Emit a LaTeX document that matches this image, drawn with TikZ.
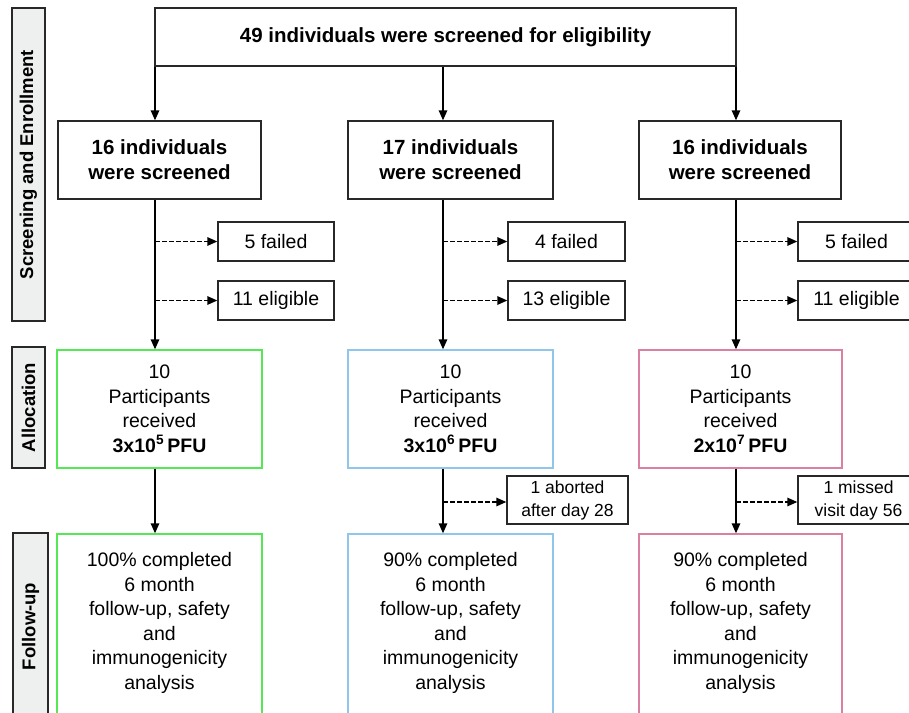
\documentclass[tikz,border=0pt]{standalone}
\usepackage{fontspec}
\setmainfont{Liberation Sans}
\usetikzlibrary{arrows.meta}
\definecolor{grnb}{RGB}{85,232,85}
\definecolor{blub}{RGB}{145,198,235}
\definecolor{pnkb}{RGB}{218,128,162}
\definecolor{sidefill}{RGB}{238,240,240}
\definecolor{edge}{RGB}{40,40,40}
\begin{document}
\begin{tikzpicture}[x=1pt,y=-1pt,
  box/.style={draw=edge, line width=1.4pt, inner sep=0pt, align=center, fill=white},
  sidebox/.style={draw=edge, line width=1.4pt, fill=sidefill, inner sep=0pt, rotate=90,
     font=\fontsize{18.5pt}{22pt}\selectfont\bfseries},
  bigtxt/.style={font=\fontsize{20.5pt}{25pt}\selectfont\bfseries},
  regtxt/.style={font=\fontsize{19.5pt}{24.5pt}\selectfont},
  smalltxt/.style={font=\fontsize{17.5pt}{23pt}\selectfont},
  plain/.style={inner sep=0pt, align=center},
  flow/.style={draw=black, line width=1.5pt, -{Triangle[length=10pt,width=8.5pt]}},
  dflow/.style={draw=black, line width=1.5pt, dash pattern=on 4.5pt off 2.5pt, -{Triangle[length=10pt,width=8.5pt]}}
]
\useasboundingbox (0,0) rectangle (909,712);
\clip (0,0) rectangle (909,712);

% side bars
\node[sidebox, minimum width=313pt, minimum height=33pt] (sb1) at (28.5,164.5) {Screening and Enrollment};
\node[sidebox, minimum width=121pt, minimum height=33pt] (sb2) at (28.5,407.5) {Allocation};
\node[sidebox, minimum width=187pt, minimum height=35pt] (sb3) at (30.5,626.5) {Follow-up};

% top box
\node[box, bigtxt, minimum width=581pt, minimum height=58pt] (top) at (445.5,37) {49 individuals were screened for eligibility};

% screened boxes
\node[box, bigtxt, minimum width=203pt, minimum height=78pt] (s1) at (159.5,160) {16 individuals\\were screened};
\node[box, bigtxt, minimum width=205pt, minimum height=78pt] (s2) at (450.5,160) {17 individuals\\were screened};
\node[box, bigtxt, minimum width=202pt, minimum height=78pt] (s3) at (740,160) {16 individuals\\were screened};

% failed / eligible
\node[box, regtxt, minimum width=116pt, minimum height=39pt] (f1) at (276,241.5) {5 failed};
\node[box, regtxt, minimum width=117pt, minimum height=39pt] (f2) at (566.5,241.5) {4 failed};
\node[box, regtxt, minimum width=117pt, minimum height=39pt] (f3) at (856.5,241.5) {5 failed};
\node[box, regtxt, minimum width=116pt, minimum height=39pt] (e1) at (276,300.5) {11 eligible};
\node[box, regtxt, minimum width=117pt, minimum height=39pt] (e2) at (566.5,300.5) {13 eligible};
\node[box, regtxt, minimum width=117pt, minimum height=39pt] (e3) at (856.5,300.5) {11 eligible};

% allocation
\node[box, draw=grnb, regtxt, minimum width=205pt, minimum height=118pt] (a1) at (159.5,409) {10\\Participants\\received\\\textbf{3x10\textsuperscript{5}\,PFU}};
\node[box, draw=blub, regtxt, minimum width=205pt, minimum height=118pt] (a2) at (450.5,409) {10\\Participants\\received\\\textbf{3x10\textsuperscript{6}\,PFU}};
\node[box, draw=pnkb, regtxt, minimum width=203pt, minimum height=118pt] (a3) at (740.5,409) {10\\Participants\\received\\\textbf{2x10\textsuperscript{7}\,PFU}};

% small boxes
\node[box, smalltxt, minimum width=121pt, minimum height=48pt] (ab) at (567.5,500) {1 aborted\\after day 28};
\node[box, smalltxt, minimum width=121pt, minimum height=48pt] (ms) at (858.5,500) {1 missed\\visit day 56};

% follow-up boxes
\node[box, draw=grnb, minimum width=205pt, minimum height=190pt] (u1) at (159.5,629) {};
\node[box, draw=blub, minimum width=205pt, minimum height=190pt] (u2) at (450.5,629) {};
\node[box, draw=pnkb, minimum width=203pt, minimum height=190pt] (u3) at (740.5,629) {};
\node[plain, regtxt] (u1t) at (159.5,623) {100\% completed\\6 month\\follow-up, safety\\and\\immunogenicity\\analysis};
\node[plain, regtxt] (u2t) at (450.5,623) {90\% completed\\6 month\\follow-up, safety\\and\\immunogenicity\\analysis};
\node[plain, regtxt] (u3t) at (740.5,623) {90\% completed\\6 month\\follow-up, safety\\and\\immunogenicity\\analysis};

% column lines
\coordinate (cA) at (155,0);
\coordinate (cB) at (443,0);
\coordinate (cC) at (736,0);

\draw[flow] (top.south west -| cA) -- (s1.north -| cA);
\draw[flow] (top.south -| cB) -- (s2.north -| cB);
\draw[flow] (top.south east -| cC) -- (s3.north -| cC);

\draw[flow] (s1.south -| cA) -- (a1.north -| cA);
\draw[flow] (s2.south -| cB) -- (a2.north -| cB);
\draw[flow] (s3.south -| cC) -- (a3.north -| cC);

\draw[flow] (a1.south -| cA) -- (u1.north -| cA);
\draw[flow] (a2.south -| cB) -- (u2.north -| cB);
\draw[flow] (a3.south -| cC) -- (u3.north -| cC);

\draw[dflow] (f1.west -| cA) -- (f1.west);
\draw[dflow] (f2.west -| cB) -- (f2.west);
\draw[dflow] (f3.west -| cC) -- (f3.west);
\draw[dflow] (e1.west -| cA) -- (e1.west);
\draw[dflow] (e2.west -| cB) -- (e2.west);
\draw[dflow] (e3.west -| cC) -- (e3.west);
\draw[dflow] ([yshift=-2pt]ab.west -| cB) -- ([yshift=-2pt]ab.west);
\draw[dflow] ([yshift=-2pt]ms.west -| cC) -- ([yshift=-2pt]ms.west);
\end{tikzpicture}
\end{document}
